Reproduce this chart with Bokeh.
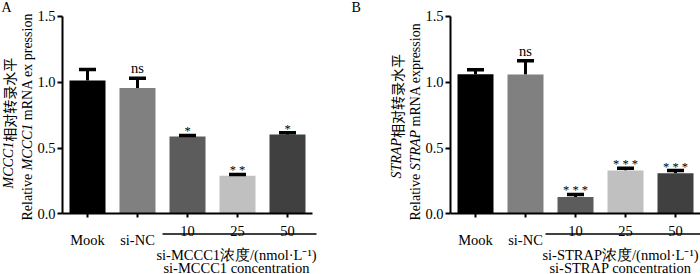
from math import pi
from bokeh.plotting import figure
from bokeh.layouts import row
from bokeh.models import ColumnDataSource, FixedTicker, LinearAxis, Label, Range1d
from bokeh.core.properties import value
from bokeh.embed import file_html
from bokeh.resources import INLINE

# ---- data ----
categories = ["Mook", "si-NC", "10", "25", "50"]
bar_colors = ["#000000", "#808080", "#5c5c5c", "#c0c0c0", "#404040"]

a_values = [1.013, 0.955, 0.587, 0.289, 0.603]
a_errors = [0.083, 0.075, 0.008, 0.010, 0.012]
a_marks = ["", "ns", "*", "* *", "*"]

b_values = [1.060, 1.058, 0.127, 0.329, 0.309]
b_errors = [0.035, 0.105, 0.020, 0.018, 0.020]
b_marks = ["", "ns", "* * *", "* * *", "* * *"]

y_ticks = [0.0, 0.5, 1.0, 1.5]

SERIF = "Liberation Serif"
W, H = 350, 274
Y0_PX, SCALE_Y = 213.3, 131.6   # pixel of y=0, pixels per unit
SCALE_X = 50.0                  # pixels per category step
XFS = "14.5px"                  # x-side label font size
YFS = 14                        # y-label font size (px)


def panel(letter, gene, values, errors, marks, x0_px, ul_start, ul_end, ylab1_start, ylab2_start, lab_x):
    def py(px):
        return (Y0_PX - px) / SCALE_Y

    def pxd(px):
        return (px - x0_px) / SCALE_X

    x = list(range(len(categories)))
    p = figure(width=W, height=H, output_backend="svg", toolbar_location=None,
               x_range=Range1d(pxd(0), pxd(W)), y_range=Range1d(py(H), py(0)),
               min_border=0, min_border_left=0, min_border_right=0, min_border_top=0,
               min_border_bottom=0, x_axis_location=None, y_axis_location=None)
    p.xgrid.visible = False
    p.ygrid.visible = False
    p.outline_line_color = None
    p.background_fill_color = "white"
    p.border_fill_color = "white"

    err_top = [v + e for v, e in zip(values, errors)]
    src = ColumnDataSource(dict(x=x, top=values, err=err_top, color=bar_colors,
                                x0=[i - 0.17 for i in x], x1=[i + 0.17 for i in x]))
    p.segment(x0="x", y0="top", x1="x", y1="err", source=src, line_color="black", line_width=3)
    p.vbar(x="x", top="top", width=0.72, source=src, fill_color="color", line_color=None)
    p.segment(x0="x0", y0="err", x1="x1", y1="err", source=src, line_color="black", line_width=3.5)

    # significance marks
    ns_idx = [i for i, m in enumerate(marks) if m == "ns"]
    st_idx = [i for i, m in enumerate(marks) if m.startswith("*")]
    p.text(x=[x[i] for i in ns_idx], y=[err_top[i] for i in ns_idx], text=[marks[i] for i in ns_idx],
           text_align="center", text_baseline="middle", y_offset=-10,
           text_font=value(SERIF), text_font_size="14.5px", text_color="black")
    p.text(x=[x[i] for i in st_idx], y=[err_top[i] for i in st_idx], text=[marks[i] for i in st_idx],
           text_align="center", text_baseline="middle", y_offset=-4,
           text_font=value(SERIF), text_font_size="12.5px", text_color="black")

    # y axis
    yax = LinearAxis(ticker=FixedTicker(ticks=y_ticks), bounds=(0, 1.5), fixed_location=-0.5,
                     major_label_overrides={t: f"{t:.1f}" for t in y_ticks})
    yax.axis_line_width = 2
    yax.major_tick_line_width = 2
    yax.major_tick_out = 5
    yax.major_tick_in = 0
    yax.minor_tick_line_color = None
    yax.major_label_standoff = 2
    yax.major_label_text_font = SERIF
    yax.major_label_text_font_size = XFS
    yax.major_label_text_color = "black"
    p.add_layout(yax, "left")

    # x axis (ticks only; labels drawn below)
    xax = LinearAxis(ticker=FixedTicker(ticks=x), bounds=(-0.5, 4.5), fixed_location=0,
                     major_label_overrides={i: "" for i in x})
    xax.axis_line_width = 2
    xax.major_tick_line_width = 2
    xax.major_tick_out = 4
    xax.major_tick_in = 0
    xax.minor_tick_line_color = None
    xax.major_label_text_font_size = XFS
    p.add_layout(xax, "below")

    # group underline
    p.segment(x0=[ul_start], y0=[py(233.5)], x1=[ul_end], y1=[py(233.5)],
              line_color="black", line_width=1.5)

    # category labels
    for i, c in enumerate(categories):
        yy = py(239) if i < 2 else py(230)
        p.add_layout(Label(x=x[i], y=yy, text=c, text_align="center", text_baseline="middle",
                           text_font=SERIF, text_font_size=XFS, text_color="black"))
    p.add_layout(Label(x=lab_x, y=py(254), text=f"si-{gene}浓度/(nmol·L⁻¹)", text_align="center",
                       text_baseline="middle", text_font=SERIF, text_font_size=XFS, text_color="black"))
    p.add_layout(Label(x=lab_x, y=py(267), text=f"si-{gene} concentration", text_align="center",
                       text_baseline="middle", text_font=SERIF, text_font_size=XFS, text_color="black"))

    # panel letter
    p.add_layout(Label(x=pxd(1), y=py(-1), text=letter, text_align="left", text_baseline="top",
                       text_font=SERIF, text_font_size="14px", text_color="black"))

    # rotated y labels (mixed italic); segment lengths from Times metrics (em units)
    ital_em = 3.334 if gene == "MCCC1" else 2.889
    ital_w = ital_em * YFS
    space_w = 0.25 * YFS
    rel_w = 3.333 * YFS
    fs = f"{YFS}px"
    l1x = pxd(x0_px - 79)
    l2x = pxd(x0_px - 60)
    p.add_layout(Label(x=l1x, y=py(ylab1_start), text=gene, angle=pi / 2, text_align="left",
                       text_baseline="middle", text_font=SERIF, text_font_style="italic",
                       text_font_size=fs, text_color="black"))
    p.add_layout(Label(x=l1x, y=py(ylab1_start - ital_w), text="相对转录水平", angle=pi / 2,
                       text_align="left", text_baseline="middle", text_font="Noto Sans CJK SC",
                       text_font_size=fs, text_color="black"))
    p.add_layout(Label(x=l2x, y=py(ylab2_start), text="Relative", angle=pi / 2, text_align="left",
                       text_baseline="middle", text_font=SERIF, text_font_size=fs, text_color="black"))
    p.add_layout(Label(x=l2x, y=py(ylab2_start - rel_w - space_w), text=gene, angle=pi / 2,
                       text_align="left", text_baseline="middle", text_font=SERIF,
                       text_font_style="italic", text_font_size=fs, text_color="black"))
    tail = "mRNA ex pression" if gene == "MCCC1" else "mRNA expression"
    p.add_layout(Label(x=l2x, y=py(ylab2_start - rel_w - ital_w - 2 * space_w), text=tail,
                       angle=pi / 2, text_align="left", text_baseline="middle", text_font=SERIF,
                       text_font_size=fs, text_color="black"))
    return p


pa = panel("A", "MCCC1", a_values, a_errors, a_marks, x0_px=87, ul_start=1.5, ul_end=4.58,
           ylab1_start=188, ylab2_start=220, lab_x=2.98)
pb = panel("B", "STRAP", b_values, b_errors, b_marks, x0_px=125, ul_start=1.4, ul_end=4.5,
           ylab1_start=178, ylab2_start=220, lab_x=2.9)

layout = row(pa, pb, spacing=0)
open("out.html", "w").write(file_html(layout, INLINE))
